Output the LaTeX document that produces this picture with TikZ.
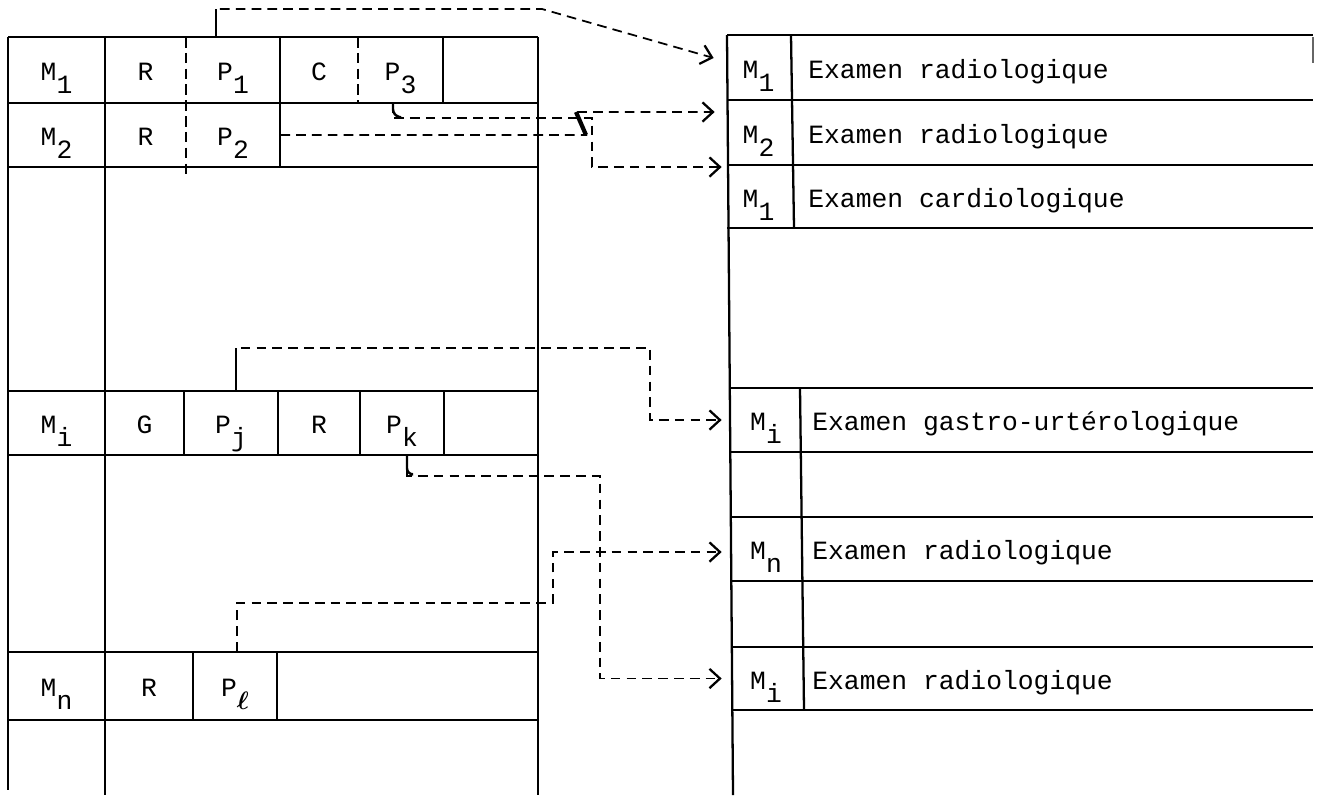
\documentclass[tikz,border=0pt]{standalone}
\usepackage{fontspec}
\setmonofont{Liberation Mono}
\usetikzlibrary{arrows.meta}

% typed index: same size as the letter, dropped half a line
\newcommand{\idx}[1]{\raisebox{-0.5em}{#1}}

\tikzset{
    grid/.style  = {line width = 1.3pt},
    split/.style = {line width = 1.2pt, dash pattern = on 6pt off 3pt},
    stub/.style  = {line width = 1.4pt, rounded corners = 0.12cm},
    link/.style  = {
        line width   = 1pt,
        dash pattern = on 5.5pt off 3.5pt,
        -{Straight Barb[length = 6pt, width = 11pt, line width = 1.3pt]},
    },
    cell/.style  = {
        inner sep   = 0pt,
        text height = 20pt,
        text depth  = 8pt,
        font        = \ttfamily\fontsize{15}{18}\selectfont,
    },
    exam/.style  = {cell, anchor = west},
}

\begin{document}
\begin{tikzpicture}[x = 0.02cm, y = -0.02cm]
    \useasboundingbox (0, 0) rectangle (1324, 795);

    % left table: frame and row lines
    \draw[grid] (8, 37) -- (8, 790);
    \draw[grid] (105, 37) -- (105, 795);
    \draw[grid] (538, 37) -- (538, 795);
    \foreach \y in {37, 103, 167, 391, 455, 652, 720}
        \draw[grid] (8, \y) -- (538, \y);

    % left table: cell dividers
    \draw[grid]  (280, 37) -- (280, 167);
    \draw[grid]  (443, 37) -- (443, 103);
    \draw[split] (186, 37) -- (186, 174);
    \draw[split] (358, 37) -- (358, 103);
    \foreach \x in {184, 278, 360, 444}
        \draw[grid] (\x, 391) -- (\x, 455);
    \foreach \x in {193, 277}
        \draw[grid] (\x, 652) -- (\x, 720);

    % right table
    \draw[grid] (727, 35) -- (733, 795);
    \foreach \y in {35, 100, 165, 228}
        \draw[grid] (727, \y) -- (1313, \y);
    \foreach \y in {388, 452, 517, 581, 647, 710}
        \draw[grid] (731, \y) -- (1313, \y);
    \draw[grid] (791, 35) -- (794, 228);
    \draw[grid] (800, 388) -- (804, 710);
    \draw[line width = 0.6pt, black!60] (1313, 37) -- (1313, 63);

    \begin{scope}[every node/.style = {cell}]
        % left table, first rows
        \node (m1) at (56.5, 70)  [minimum width = 1.94cm, minimum height = 1.32cm] {M\idx{1}};
        \node (ra) at (145.5, 70) [minimum width = 1.62cm, minimum height = 1.32cm] {R};
        \node (p1) at (233, 70)   [minimum width = 1.88cm, minimum height = 1.32cm] {P\idx{1}};
        \node (c1) at (319, 70)   [minimum width = 1.56cm, minimum height = 1.32cm] {C};
        \node (p3) at (400.5, 70) [minimum width = 1.70cm, minimum height = 1.32cm] {P\idx{3}};

        \node (m2) at (56.5, 135)  [minimum width = 1.94cm, minimum height = 1.28cm] {M\idx{2}};
        \node (rb) at (145.5, 135) [minimum width = 1.62cm, minimum height = 1.28cm] {R};
        \node (p2) at (233, 135)   [minimum width = 1.88cm, minimum height = 1.28cm] {P\idx{2}};

        % left table, row i
        \node (mi) at (56.5, 423)  [minimum width = 1.94cm, minimum height = 1.28cm] {M\idx{i}};
        \node (gi) at (144.5, 423) [minimum width = 1.58cm, minimum height = 1.28cm] {G};
        \node (pj) at (231, 423)   [minimum width = 1.88cm, minimum height = 1.28cm] {P\idx{j}};
        \node (ri) at (319, 423)   [minimum width = 1.64cm, minimum height = 1.28cm] {R};
        \node (pk) at (402, 423)   [minimum width = 1.68cm, minimum height = 1.28cm] {P\idx{k}};

        % left table, row n
        \node (mn) at (56.5, 686) [minimum width = 1.94cm, minimum height = 1.36cm] {M\idx{n}};
        \node (rn) at (149, 686)  [minimum width = 1.76cm, minimum height = 1.36cm] {R};
        \node (pl) at (235, 686)  [minimum width = 1.68cm, minimum height = 1.36cm] {P\idx{{\boldmath$\ell$}}};

        % right table
        \node (r1) at (758.5, 67.5)  [minimum width = 1.26cm, minimum height = 1.30cm] {M\idx{1}};
        \node (r2) at (758.5, 132.5) [minimum width = 1.26cm, minimum height = 1.30cm] {M\idx{2}};
        \node (r3) at (758.5, 196.5) [minimum width = 1.26cm, minimum height = 1.26cm] {M\idx{1}};
        \node (r4) at (766, 420)     [minimum width = 1.36cm, minimum height = 1.28cm] {M\idx{i}};
        \node (r5) at (766, 549)     [minimum width = 1.36cm, minimum height = 1.28cm] {M\idx{n}};
        \node (r6) at (766, 678.5)   [minimum width = 1.36cm, minimum height = 1.26cm] {M\idx{i}};

        \node (e1) at (808, 67.5)  [exam] {Examen radiologique};
        \node (e2) at (808, 132.5) [exam] {Examen radiologique};
        \node (e3) at (808, 196.5) [exam] {Examen cardiologique};
        \node (e4) at (812, 420)   [exam] {Examen gastro-urtérologique};
        \node (e5) at (812, 549)   [exam] {Examen radiologique};
        \node (e6) at (812, 678.5) [exam] {Examen radiologique};
    \end{scope}

    % bends of the links
    \coordinate (k1) at (542, 9);
    \coordinate (k2a) at (586, 135);
    \coordinate (k2b) at (576, 112);
    \coordinate (k3) at (592, 118);
    \coordinate (kj) at (650, 348);
    \coordinate (kk) at (600, 476);
    \coordinate (kl) at (553, 603);

    \coordinate (p1top) at ([xshift = -0.34cm] p1.north);
    \coordinate (p3bot) at ([xshift = -0.15cm] p3.south);
    \coordinate (pjtop) at ([xshift = 0.10cm] pj.north);
    \coordinate (pkbot) at ([xshift = 0.10cm] pk.south);
    \coordinate (pltop) at ([xshift = 0.04cm] pl.north);

    % links from the left cells to the examinations
    \draw[link] (p1top) |- (k1) -- ([xshift = -0.26cm, yshift = 0.19cm] r1.west);
    \draw[link] (p2.east) -- (k2a) -- (k2b) -- ([xshift = -0.24cm, yshift = 0.41cm] r2.west);
    \draw[link] (p3bot) |- (k3) |- ([xshift = -0.10cm, yshift = 0.59cm] r3.west);
    \draw[link] (pjtop) |- (kj) |- ([xshift = -0.20cm] r4.west);
    \draw[link] (pltop) |- (kl) |- ([xshift = -0.20cm, yshift = -0.06cm] r5.west);
    \draw[link] (pkbot) |- (kk) |- ([xshift = -0.20cm] r6.west);

    % solid parts of the links
    \draw[stub] (p1top) -- (p1top |- k1);
    \draw[stub] (p3bot) -- ++(0, 12) -- ++(8, 2);
    \draw[stub] (pjtop) -- (pjtop |- kj);
    \draw[stub] (pkbot) -- ++(0, 19) -- ++(6, 0);
    \draw[line width = 2.4pt] (k2a) -- (k2b);
\end{tikzpicture}
\end{document}
